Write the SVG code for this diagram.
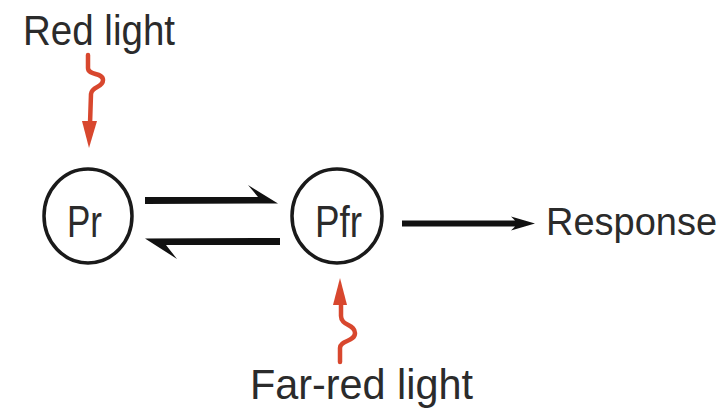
<svg xmlns="http://www.w3.org/2000/svg" width="723" height="408" viewBox="0 0 723 408">
<style>
.lbl{font-family:"Liberation Sans",Arial,sans-serif;font-size:42px;fill:#2b2b2b}
.node{fill:#fff;stroke:#1a1a1a;stroke-width:3.5}
.bar{fill:#111}
.wave{fill:none;stroke:#d8472e;stroke-width:4.5;stroke-linecap:round;stroke-linejoin:round}
.head{fill:#d8472e}
</style>
<rect width="723" height="408" fill="#fff"/>
<g id="label-red-light">
<text class="lbl" x="23" y="45" textLength="152" lengthAdjust="spacingAndGlyphs">Red light</text>
</g>
<g id="label-far-red-light">
<text class="lbl" x="250" y="399" textLength="223" lengthAdjust="spacingAndGlyphs">Far-red light</text>
</g>
<g id="node-pr">
<ellipse class="node" cx="88" cy="216" rx="44" ry="47"/>
<text class="lbl" x="67" y="237" style="font-size:44px" textLength="35" lengthAdjust="spacingAndGlyphs">Pr</text>
</g>
<g id="node-pfr">
<ellipse class="node" cx="337" cy="216" rx="45" ry="47"/>
<text class="lbl" x="315" y="237" style="font-size:44px" textLength="47" lengthAdjust="spacingAndGlyphs">Pfr</text>
</g>
<g id="node-response">
<text class="lbl" x="546" y="235" style="font-size:38px">Response</text>
</g>
<g id="connectors">
<path class="bar" d="M145,197 L258,197 L248,185 L278,203.5 L145,204 Z"/>
<path class="bar" d="M280,238 L145,238.5 L177,259 L166,245 L280,245 Z"/>
<path class="bar" d="M402,220.5 L515,220.5 L511,216.5 L535,223.5 L511,230.5 L515,226.5 L402,226.5 Z"/>
<path class="wave" d="M88,55 L88,68 C88,76 103,72 103,80 C103,88 92,86 91,94 L90,124"/>
<polygon class="head" points="82,121 97,121 89,148"/>
<path class="wave" d="M340,362 L340,348 C340,340 355,342 355,333 C355,324 341,326 341,316 L341,302"/>
<polygon class="head" points="333,305 347,305 340,278"/>
</g>
</svg>
